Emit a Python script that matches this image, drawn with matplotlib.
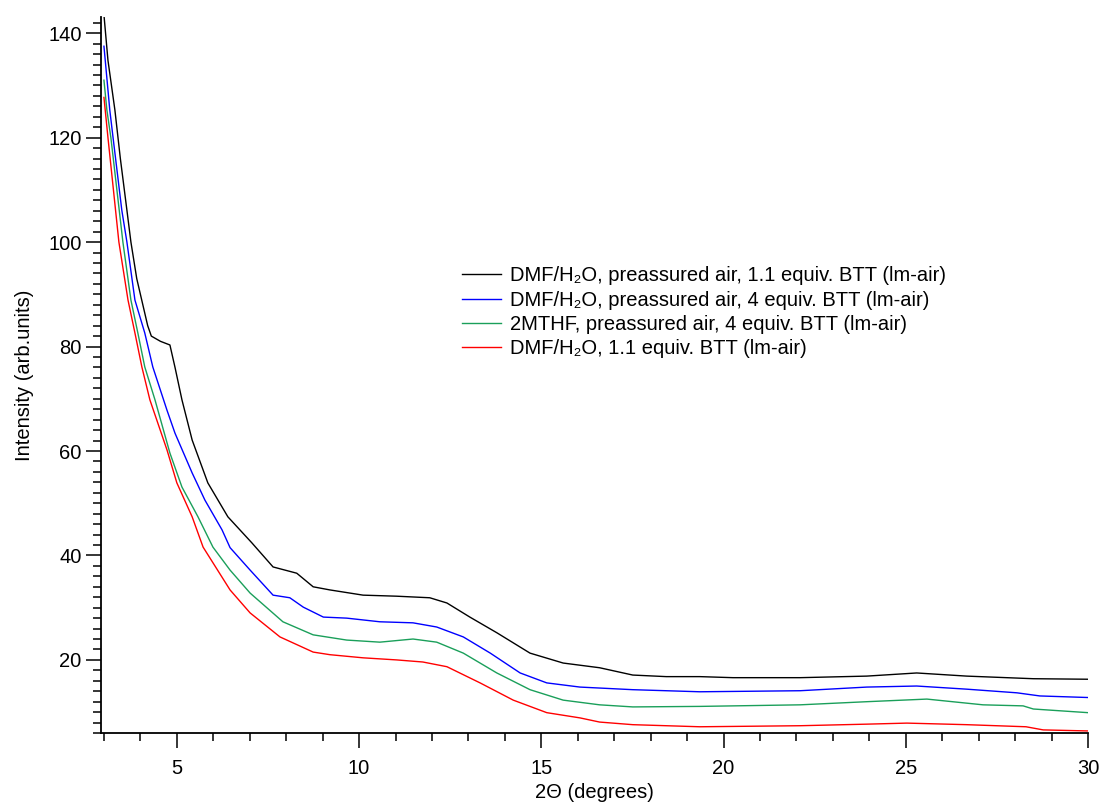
import matplotlib
matplotlib.use('Agg')
import matplotlib.pyplot as plt
from matplotlib.ticker import MultipleLocator

plt.rcParams['font.family'] = ['Liberation Sans', 'DejaVu Sans']

x_black = [3.0, 3.11, 3.30, 3.45, 3.63, 3.74, 3.9, 4.1, 4.2, 4.3, 4.55, 4.81, 4.95, 5.14,
           5.42, 5.85, 6.40, 7.06, 7.64, 8.29, 8.74, 9.20, 10.11, 11.03, 11.94, 12.41,
           13.04, 13.78, 14.69, 15.6, 16.6, 17.51, 18.43, 19.35, 20.26, 22.1, 23.93, 25.30,
           26.67, 28.5, 30.0]
y_black = [143.5, 134.8, 125.3, 116.0, 106.1, 100.0, 93.0, 87.0, 84.0, 82.0, 81.0, 80.3,
           76.0, 69.8, 62.1, 53.9, 47.4, 42.4, 37.8, 36.6, 34.0, 33.4, 32.4, 32.2, 31.9,
           30.9, 28.2, 25.2, 21.3, 19.4, 18.5, 17.1, 16.8, 16.8, 16.6, 16.6, 16.9, 17.5,
           16.9, 16.4, 16.3]

x_blue = [3.0, 3.16, 3.25, 3.49, 3.63, 3.85, 4.12, 4.34, 4.73, 4.95, 5.42, 5.77, 6.24,
          6.46, 7.01, 7.64, 8.10, 8.47, 9.02, 9.66, 10.57, 11.48, 12.13, 12.86, 13.60,
          14.42, 15.15, 16.06, 17.51, 19.35, 22.1, 23.93, 25.3, 26.67, 28.05, 28.68, 30.0]
y_blue = [137.5, 125.3, 120.0, 106.1, 100.0, 88.9, 82.6, 76.1, 67.8, 63.4, 55.8, 50.6,
          44.9, 41.5, 37.2, 32.4, 31.9, 30.1, 28.2, 28.0, 27.3, 27.1, 26.3, 24.4, 21.3,
          17.5, 15.6, 14.8, 14.3, 13.9, 14.1, 14.8, 15.0, 14.4, 13.7, 13.1, 12.8]

x_green = [3.0, 3.08, 3.19, 3.52, 3.74, 3.93, 4.12, 4.40, 4.81, 5.14, 5.58, 5.99, 6.46,
           7.01, 7.91, 8.74, 9.66, 10.57, 11.48, 12.13, 12.86, 13.78, 14.69, 15.60, 16.6,
           17.51, 19.35, 22.1, 23.93, 25.58, 27.12, 28.22, 28.5, 30.0]
y_green = [131.0, 125.3, 120.0, 100.0, 88.9, 82.6, 76.1, 69.8, 59.6, 53.1, 47.4, 41.6,
           37.2, 32.8, 27.3, 24.8, 23.8, 23.4, 24.0, 23.4, 21.3, 17.5, 14.3, 12.3, 11.4,
           11.0, 11.1, 11.4, 12.0, 12.5, 11.4, 11.2, 10.6, 9.9]

x_red = [3.0, 3.11, 3.41, 3.66, 3.85, 4.04, 4.26, 4.73, 5.0, 5.42, 5.72, 6.46, 7.01, 7.83,
         8.74, 9.20, 10.11, 11.03, 11.75, 12.41, 13.32, 14.23, 15.15, 16.06, 16.6, 17.51,
         19.35, 22.1, 23.93, 25.03, 26.67, 28.3, 28.77, 30.0]
y_red = [127.7, 120.0, 100.0, 88.9, 82.6, 76.1, 69.8, 60.2, 53.9, 47.4, 41.6, 33.4, 29.0,
         24.4, 21.5, 21.0, 20.4, 20.0, 19.6, 18.7, 15.6, 12.3, 9.9, 8.9, 8.1, 7.6, 7.2,
         7.4, 7.7, 7.9, 7.6, 7.2, 6.6, 6.4]

series = [
    (x_black, y_black, '#000000', 'DMF/H₂O, preassured air, 1.1 equiv. BTT (lm-air)'),
    (x_blue, y_blue, '#0000ff', 'DMF/H₂O, preassured air, 4 equiv. BTT (lm-air)'),
    (x_green, y_green, '#1a9f5a', '2MTHF, preassured air, 4 equiv. BTT (lm-air)'),
    (x_red, y_red, '#ff0000', 'DMF/H₂O, 1.1 equiv. BTT (lm-air)'),
]

fig = plt.figure(figsize=(11.03, 8.05), dpi=100)
ax = fig.add_axes([0.0916, 0.0894, 0.8948, 0.8895])

for xs, ys, col, lab in series:
    ax.plot(xs, ys, color=col, linewidth=1.0, label=lab)

ax.set_xlim(2.92, 30)
ax.set_ylim(6, 143.1)

ax.xaxis.set_major_locator(MultipleLocator(5))
ax.xaxis.set_minor_locator(MultipleLocator(1))
ax.yaxis.set_major_locator(MultipleLocator(20))
ax.yaxis.set_minor_locator(MultipleLocator(2))

for s in ['top', 'right']:
    ax.spines[s].set_visible(False)
for s in ['left', 'bottom']:
    ax.spines[s].set_linewidth(1.3)

ax.tick_params(which='major', direction='out', length=10.5, width=1.1, labelsize=14.5)
ax.tick_params(axis='x', which='major', pad=8)
ax.tick_params(which='minor', direction='out', length=5.5, width=1.1)

ax.set_xlabel('2Θ (degrees)', fontsize=14.5, labelpad=4)
ax.set_ylabel('Intensity (arb.units)', fontsize=14.5, labelpad=10)

leg = ax.legend(loc='upper left', bbox_to_anchor=(0.366, 0.652), frameon=False,
                fontsize=14.5, handlelength=1.9, handletextpad=0.45, labelspacing=0.27,
                borderpad=0, borderaxespad=0)

fig.savefig('out.png', dpi=100)
